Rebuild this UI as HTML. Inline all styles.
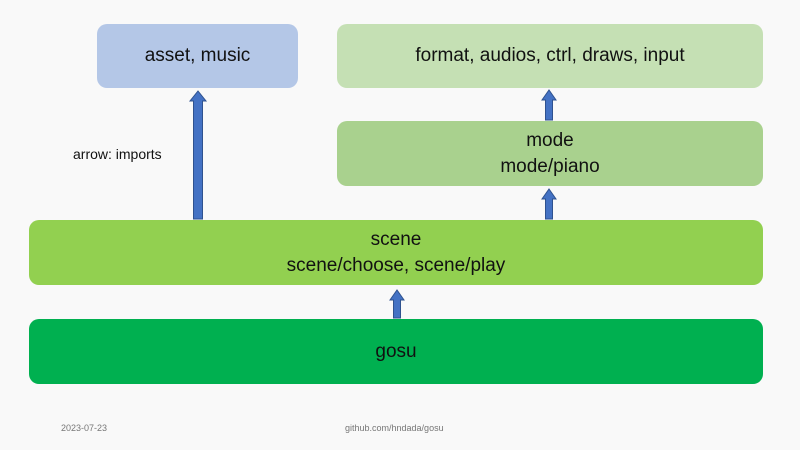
<!DOCTYPE html>
<html><head><style>
body{margin:0;width:800px;height:450px;background:#f9f9f9;position:relative;overflow:hidden;font-family:"Liberation Sans","DejaVu Sans",sans-serif}
.b{position:absolute;border-radius:10px;display:flex;align-items:center;justify-content:center;text-align:center;font-size:19px;line-height:26px;color:#111}
.s{position:absolute;font-size:9px;color:#777}
</style></head><body>
<div class="b" style="left:97px;top:24px;width:201px;height:64px;background:#b4c7e7">asset, music</div>
<div class="b" style="left:337px;top:24px;width:426px;height:64px;background:#c5e0b4">format, audios, ctrl, draws, input</div>
<div class="b" style="left:337px;top:121px;width:426px;height:65px;background:#a9d18e">mode<br>mode/piano</div>
<div class="b" style="left:29px;top:220px;width:734px;height:65px;background:#92d050">scene<br>scene/choose, scene/play</div>
<div class="b" style="left:29px;top:319px;width:734px;height:65px;background:#00b050">gosu</div>
<div style="position:absolute;left:73px;top:146px;font-size:14px;color:#111">arrow: imports</div>
<svg width="800" height="450" style="position:absolute;left:0;top:0">
<g fill="#4472c4" stroke="#2f528f" stroke-width="1">
<polygon points="193.5,219 193.5,101 190,101 198,91 206,101 202.5,101 202.5,219"/>
<polygon points="545.5,120 545.5,100 542,100 549,90 556,100 552.5,100 552.5,120"/>
<polygon points="545.5,219 545.5,199 542,199 549,189 556,199 552.5,199 552.5,219"/>
<polygon points="393.5,318 393.5,300 390,300 397,290 404,300 400.5,300 400.5,318"/>
</g></svg>
<div class="s" style="left:61px;top:423px">2023-07-23</div>
<div class="s" style="left:345px;top:423px">github.com/hndada/gosu</div>
</body></html>
